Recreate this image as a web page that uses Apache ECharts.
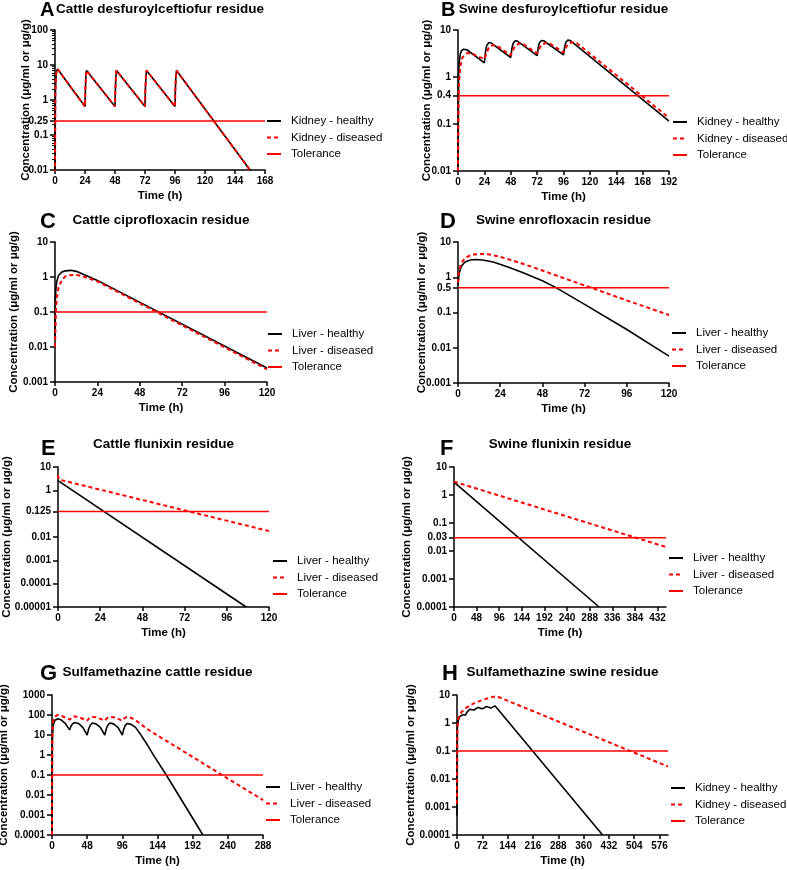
<!DOCTYPE html>
<html><head><meta charset="utf-8">
<script src="https://cdn.jsdelivr.net/npm/echarts@6/dist/echarts.min.js"></script>
<style>html,body{margin:0;padding:0;background:#fff}#c{width:787px;height:870px}</style>
</head><body><div id="c"></div>
<script>
// ---------------- DATA ----------------
// Panel A: Cattle desfuroylceftiofur residue (kidney)
const tA_healthy = [0, 0.3, 0.7, 1.2, 2, 24, 24.3, 24.7, 25.2, 26, 48, 48.3, 48.7, 49.2, 50, 72, 72.3, 72.7, 73.2, 74, 96, 96.3, 96.7, 97.2, 98, 158];
const cA_healthy = [0.005, 1.5, 4, 6.5, 7.7, 0.65, 2, 4.5, 7, 7.9, 0.65, 2, 4.5, 7, 7.9, 0.65, 2, 4.5, 7, 7.9, 0.65, 2, 4.5, 7, 7.9, 0.008];
const tA_diseased = [0, 0.3, 0.7, 1.2, 2, 24, 24.3, 24.7, 25.2, 26, 48, 48.3, 48.7, 49.2, 50, 72, 72.3, 72.7, 73.2, 74, 96, 96.3, 96.7, 97.2, 98, 158];
const cA_diseased = [0.005, 1.5, 4, 6.5, 7.7, 0.65, 2, 4.5, 7, 7.9, 0.65, 2, 4.5, 7, 7.9, 0.65, 2, 4.5, 7, 7.9, 0.65, 2, 4.5, 7, 7.9, 0.008];
const tolA = 0.25;
const xTicksA = [0, 24, 48, 72, 96, 120, 144, 168];
const yLabelsA = ['0.01', '0.1', '0.25', '1', '10', '100'];
const yMinorA = [0.02, 0.03, 0.04, 0.05, 0.06, 0.07, 0.08, 0.09, 0.2, 0.3, 0.4, 0.5, 0.6, 0.7, 0.8, 0.9, 2, 3, 4, 5, 6, 7, 8, 9, 20, 30, 40, 50, 60, 70, 80, 90];

// Panel B: Swine desfuroylceftiofur residue (kidney)
const tB_healthy = [0, 0.5, 1, 2, 3, 5, 8, 24, 24.5, 25, 26, 28, 30, 48, 48.5, 49, 50, 52, 54, 72, 72.5, 73, 74, 76, 78, 96, 96.5, 97, 98, 100, 102, 192];
const cB_healthy = [0.01, 1, 1.9, 3.0, 3.6, 3.9, 3.8, 2.0, 2.6, 3.4, 4.6, 5.4, 5.3, 2.6, 3.2, 4.0, 5.1, 5.9, 5.8, 2.85, 3.4, 4.2, 5.3, 6.0, 5.9, 2.95, 3.5, 4.3, 5.4, 6.1, 6.0, 0.115];
const tB_diseased = [0, 0.5, 1, 2, 4, 8, 12, 24, 25, 26, 28, 32, 36, 48, 49, 50, 52, 56, 60, 72, 73, 74, 76, 80, 84, 96, 97, 98, 100, 104, 108, 192];
const cB_diseased = [0.01, 0.3, 0.8, 1.6, 2.6, 3.2, 3.2, 2.4, 2.6, 3.2, 4.2, 4.8, 4.5, 2.9, 3.1, 3.7, 4.6, 5.2, 4.9, 3.2, 3.4, 4.0, 4.9, 5.3, 5.1, 3.3, 3.5, 4.1, 5.0, 5.5, 5.3, 0.135];
const tolB = 0.4;
const xTicksB = [0, 24, 48, 72, 96, 120, 144, 168, 192];
const yLabelsB = ['0.01', '0.1', '0.4', '1', '10'];

// Panel C: Cattle ciprofloxacin residue (liver)
const tC_healthy = [0, 0.25, 0.5, 1, 2, 4, 6, 9, 12, 16, 24, 120];
const cC_healthy = [0.02, 0.25, 0.45, 0.75, 1.1, 1.4, 1.5, 1.55, 1.45, 1.2, 0.8, 0.0025];
const tC_diseased = [0, 0.5, 1, 2, 4, 6, 8, 11, 14, 18, 24, 120];
const cC_diseased = [0.01, 0.1, 0.25, 0.5, 0.85, 1.05, 1.12, 1.15, 1.1, 0.95, 0.75, 0.0023];
const tolC = 0.1;
const xTicksC = [0, 24, 48, 72, 96, 120];
const yLabelsC = ['0.001', '0.01', '0.1', '1', '10'];

// Panel D: Swine enrofloxacin residue (liver)
const tD_healthy = [0, 0.5, 1, 2, 4, 7, 10, 14, 20, 28, 36, 48, 56, 72, 96, 120];
const cD_healthy = [0.6, 1.1, 1.5, 2.1, 2.7, 3.1, 3.2, 3.1, 2.7, 2.0, 1.4, 0.8, 0.5, 0.17, 0.033, 0.0058];
const tD_diseased = [0, 0.5, 1, 2, 4, 7, 10, 14, 18, 24, 36, 48, 60, 76, 96, 120];
const cD_diseased = [0.7, 1.3, 1.8, 2.6, 3.5, 4.2, 4.5, 4.6, 4.4, 3.8, 2.5, 1.55, 0.95, 0.5, 0.22, 0.085];
const tolD = 0.5;
const xTicksD = [0, 24, 48, 72, 96, 120];
const yLabelsD = ['0.001', '0.01', '0.1', '0.5', '1', '10'];

// Panel E: Cattle flunixin residue (liver)
const tE_healthy = [0, 107];
const cE_healthy = [2.6, 0.00001];
const tE_diseased = [0, 0.5, 120];
const cE_diseased = [4.5, 2.9, 0.018];
const tolE = 0.125;
const xTicksE = [0, 24, 48, 72, 96, 120];
const yLabelsE = ['0.00001', '0.0001', '0.001', '0.01', '0.125', '1', '10'];

// Panel F: Swine flunixin residue (liver)
const tF_healthy = [0, 308];
const cF_healthy = [2.9, 0.0001];
const tF_diseased = [0, 450];
const cF_diseased = [3.0, 0.0139];
const tolF = 0.03;
const xTicksF = [0, 48, 96, 144, 192, 240, 288, 336, 384, 432];
const yLabelsF = ['0.0001', '0.001', '0.01', '0.03', '0.1', '1', '10'];

// Panel G: Sulfamethazine cattle residue (liver)
const tG_healthy = [0, 0.5, 1, 2, 4, 8, 12, 18, 24, 25, 26, 28, 31, 36, 42, 48, 49, 50, 52, 55, 60, 66, 72, 73, 74, 76, 79, 84, 90, 96, 97, 98, 100, 103, 108, 114, 120, 126, 132, 140, 156, 206];
const cG_healthy = [0.0001, 5, 15, 35, 55, 65, 58, 38, 18, 22, 28, 36, 42, 38, 24, 10, 14, 20, 30, 40, 36, 24, 10, 14, 20, 30, 40, 36, 24, 10, 14, 20, 30, 38, 34, 24, 12, 5.5, 2.5, 0.8, 0.1, 0.0001];
const tG_diseased = [0, 0.5, 1, 2, 4, 8, 12, 18, 24, 25, 27, 30, 36, 42, 48, 49, 51, 54, 60, 66, 72, 73, 75, 78, 84, 90, 96, 97, 99, 102, 108, 114, 120, 130, 144, 192, 240, 288];
const cG_diseased = [0.0001, 8, 25, 55, 85, 100, 95, 75, 58, 62, 75, 85, 80, 65, 52, 56, 70, 80, 78, 64, 52, 56, 70, 80, 78, 64, 52, 56, 70, 80, 72, 55, 38, 20, 9.5, 0.8, 0.066, 0.0056];
const tolG = 0.1;
const xTicksG = [0, 48, 96, 144, 192, 240, 288];
const yLabelsG = ['0.0001', '0.001', '0.01', '0.1', '1', '10', '100', '1000'];

// Panel H: Sulfamethazine swine residue (kidney)
const tH_healthy = [0, 1, 2, 4, 8, 12, 18, 24, 28, 36, 48, 52, 60, 72, 76, 84, 96, 100, 108, 414];
const cH_healthy = [0.0005, 0.6, 0.9, 1.3, 1.7, 1.9, 2.0, 1.9, 2.4, 3.1, 2.9, 3.3, 3.6, 3.2, 3.6, 3.9, 3.4, 3.8, 4.1, 0.0001];
const tH_diseased = [0, 1, 2, 4, 8, 12, 24, 36, 48, 60, 72, 84, 96, 108, 116, 600];
const cH_diseased = [0.0013, 0.4, 0.9, 1.5, 2.0, 2.4, 3.3, 4.2, 5.0, 5.8, 6.6, 7.4, 8.2, 8.9, 8.7, 0.028];
const tolH = 0.1;
const xTicksH = [0, 72, 144, 216, 288, 360, 432, 504, 576];
const yLabelsH = ['0.0001', '0.001', '0.01', '0.1', '1', '10'];

// ---------------- CHART ----------------
const FONT = '"Liberation Sans", Arial, sans-serif';
const RED = '#ff0000';
const BLACK = '#000000';
const zip = (t, c) => t.map((v, i) => [v, c[i]]);

const panels = [
  {letter:'A', title:'Cattle desfuroylceftiofur residue', g:[55,30,210,140], xMax:168, xT:xTicksA, yL:yLabelsA, minor:yMinorA, th:tA_healthy, ch:cA_healthy, td:tA_diseased, cd:cA_diseased, tol:tolA, organ:'Kidney', nGap:23, letterPos:[40,0,20], titleY:2, legendPos:[266,114]},
  {letter:'B', title:'Swine desfuroylceftiofur residue', g:[458,30,211,141], xMax:192, xT:xTicksB, yL:yLabelsB, th:tB_healthy, ch:cB_healthy, td:tB_diseased, cd:cB_diseased, tol:tolB, organ:'Kidney', nGap:25, letterPos:[441,0,20], titleY:2, legendPos:[672,115]},
  {letter:'C', title:'Cattle ciprofloxacin residue', g:[55,242,212,140], xMax:120, xT:xTicksC, yL:yLabelsC, th:tC_healthy, ch:cC_healthy, td:tC_diseased, cd:cC_diseased, tol:tolC, organ:'Liver', nGap:35, letterPos:[40,211,22], titleY:213, legendPos:[267,327]},
  {letter:'D', title:'Swine enrofloxacin residue', g:[458,242,211,141], xMax:120, xT:xTicksD, yL:yLabelsD, th:tD_healthy, ch:cD_healthy, td:tD_diseased, cd:cD_diseased, tol:tolD, organ:'Liver', nGap:30, letterPos:[440,211,22], titleY:213, legendPos:[671,326]},
  {letter:'E', title:'Cattle flunixin residue', g:[58,467,211,140], xMax:120, xT:xTicksE, yL:yLabelsE, th:tE_healthy, ch:cE_healthy, td:tE_diseased, cd:cE_diseased, tol:tolE, organ:'Liver', nGap:45, letterPos:[41,438,22], titleY:437, legendPos:[272,554]},
  {letter:'F', title:'Swine flunixin residue', g:[454,467,212,140], xMax:450, xT:xTicksF, yL:yLabelsF, th:tF_healthy, ch:cF_healthy, td:tF_diseased, cd:cF_diseased, tol:tolF, organ:'Liver', nGap:41, letterPos:[440,438,22], titleY:437, legendPos:[668,551]},
  {letter:'G', title:'Sulfamethazine cattle residue', g:[52,695,211,140], xMax:288, xT:xTicksG, yL:yLabelsG, th:tG_healthy, ch:cG_healthy, td:tG_diseased, cd:cG_diseased, tol:tolG, organ:'Liver', nGap:42, letterPos:[40,663,22], titleY:665, legendPos:[265,780]},
  {letter:'H', title:'Sulfamethazine swine residue', g:[457,695,211,140], xMax:600, xT:xTicksH, yL:yLabelsH, th:tH_healthy, ch:cH_healthy, td:tH_diseased, cd:cH_diseased, tol:tolH, organ:'Kidney', nGap:40, letterPos:[442,663,22], titleY:665, legendPos:[670,781]}
];

const option = {animation:false, title:[], legend:[], grid:[], xAxis:[], yAxis:[], series:[]};
const axisNameStyle = {fontFamily:FONT, fontWeight:'bold', fontSize:11.5, color:BLACK};
const tickLabelStyle = {fontFamily:FONT, fontWeight:'bold', fontSize:10, color:BLACK};

panels.forEach((p, i) => {
  const [gl, gt, gw, gh] = p.g;
  option.grid.push({left:gl, top:gt, width:gw, height:gh, containLabel:false, outerBoundsMode:'none'});
  option.title.push({text:p.letter, left:p.letterPos[0], top:p.letterPos[1], padding:0,
    textStyle:{fontFamily:FONT, fontWeight:'bold', fontSize:p.letterPos[2], color:BLACK}});
  option.title.push({text:p.title, left:gl + gw/2, top:p.titleY, textAlign:'center', padding:0,
    textStyle:{fontFamily:FONT, fontWeight:'bold', fontSize:13.5, color:BLACK}});
  option.xAxis.push({type:'value', gridIndex:i, min:0, max:p.xMax,
    name:'Time (h)', nameLocation:'middle', nameGap:20, nameMoveOverlap:false, nameTextStyle:axisNameStyle,
    axisLine:{show:true, lineStyle:{color:BLACK, width:1.5}},
    axisTick:{show:true, length:4, customValues:p.xT, lineStyle:{color:BLACK, width:1.5}},
    axisLabel:{customValues:p.xT, margin:6, ...tickLabelStyle},
    splitLine:{show:false}});
  const yVals = p.yL.map(Number);
  const fmt = v => { const s = p.yL.find(l => Math.abs(Math.log10(Number(l)) - Math.log10(v)) < 1e-6); return s || ''; };
  const yIdx = option.yAxis.length;
  option.yAxis.push({type:'log', logBase:10, gridIndex:i, position:'left', min:yVals[0], max:yVals[yVals.length-1],
    name:'Concentration (μg/ml or μg/g)', nameLocation:'middle', nameGap:p.nGap, nameMoveOverlap:false, nameTextStyle:axisNameStyle,
    axisLine:{show:true, lineStyle:{color:BLACK, width:1.5}},
    axisTick:{show:true, length:5, customValues:yVals, lineStyle:{color:BLACK, width:1.5}},
    axisLabel:{customValues:yVals, formatter:fmt, margin:7, ...tickLabelStyle},
    splitLine:{show:false}, minorTick:{show:false}});
  if (p.minor) {
    option.yAxis.push({type:'log', logBase:10, gridIndex:i, position:'left', offset:0, min:yVals[0], max:yVals[yVals.length-1],
      axisLine:{show:false},
      axisTick:{show:true, length:3, customValues:p.minor, lineStyle:{color:BLACK, width:1}},
      axisLabel:{show:false}, splitLine:{show:false}});
  }
  const healthy = p.organ + ' - healthy', diseased = p.organ + ' - diseased';
  option.series.push({name:healthy, type:'line', xAxisIndex:i, yAxisIndex:yIdx, data:zip(p.th, p.ch),
    symbol:'none', clip:true, silent:true, lineStyle:{color:BLACK, width:1.6}, itemStyle:{color:BLACK}});
  option.series.push({name:diseased, type:'line', xAxisIndex:i, yAxisIndex:yIdx, data:zip(p.td, p.cd),
    symbol:'none', clip:true, silent:true, lineStyle:{color:RED, width:2, type:[4,3]}, itemStyle:{color:RED}});
  option.series.push({name:'Tolerance', type:'line', xAxisIndex:i, yAxisIndex:yIdx, data:[[0, p.tol], [p.xMax, p.tol]],
    symbol:'none', clip:true, silent:true, lineStyle:{color:RED, width:1.5}, itemStyle:{color:RED}});
  option.legend.push({orient:'vertical', left:p.legendPos[0], top:p.legendPos[1], padding:0,
    data:[healthy, diseased, 'Tolerance'], itemWidth:14, itemHeight:10, itemGap:2.5, selectedMode:false,
    itemStyle:{opacity:0},
    textStyle:{fontFamily:FONT, fontSize:11.5, color:BLACK, lineHeight:14, padding:[0,0,0,5]}});
});

const chart = echarts.init(document.getElementById('c'));
chart.setOption(option);
</script>
</body></html>
